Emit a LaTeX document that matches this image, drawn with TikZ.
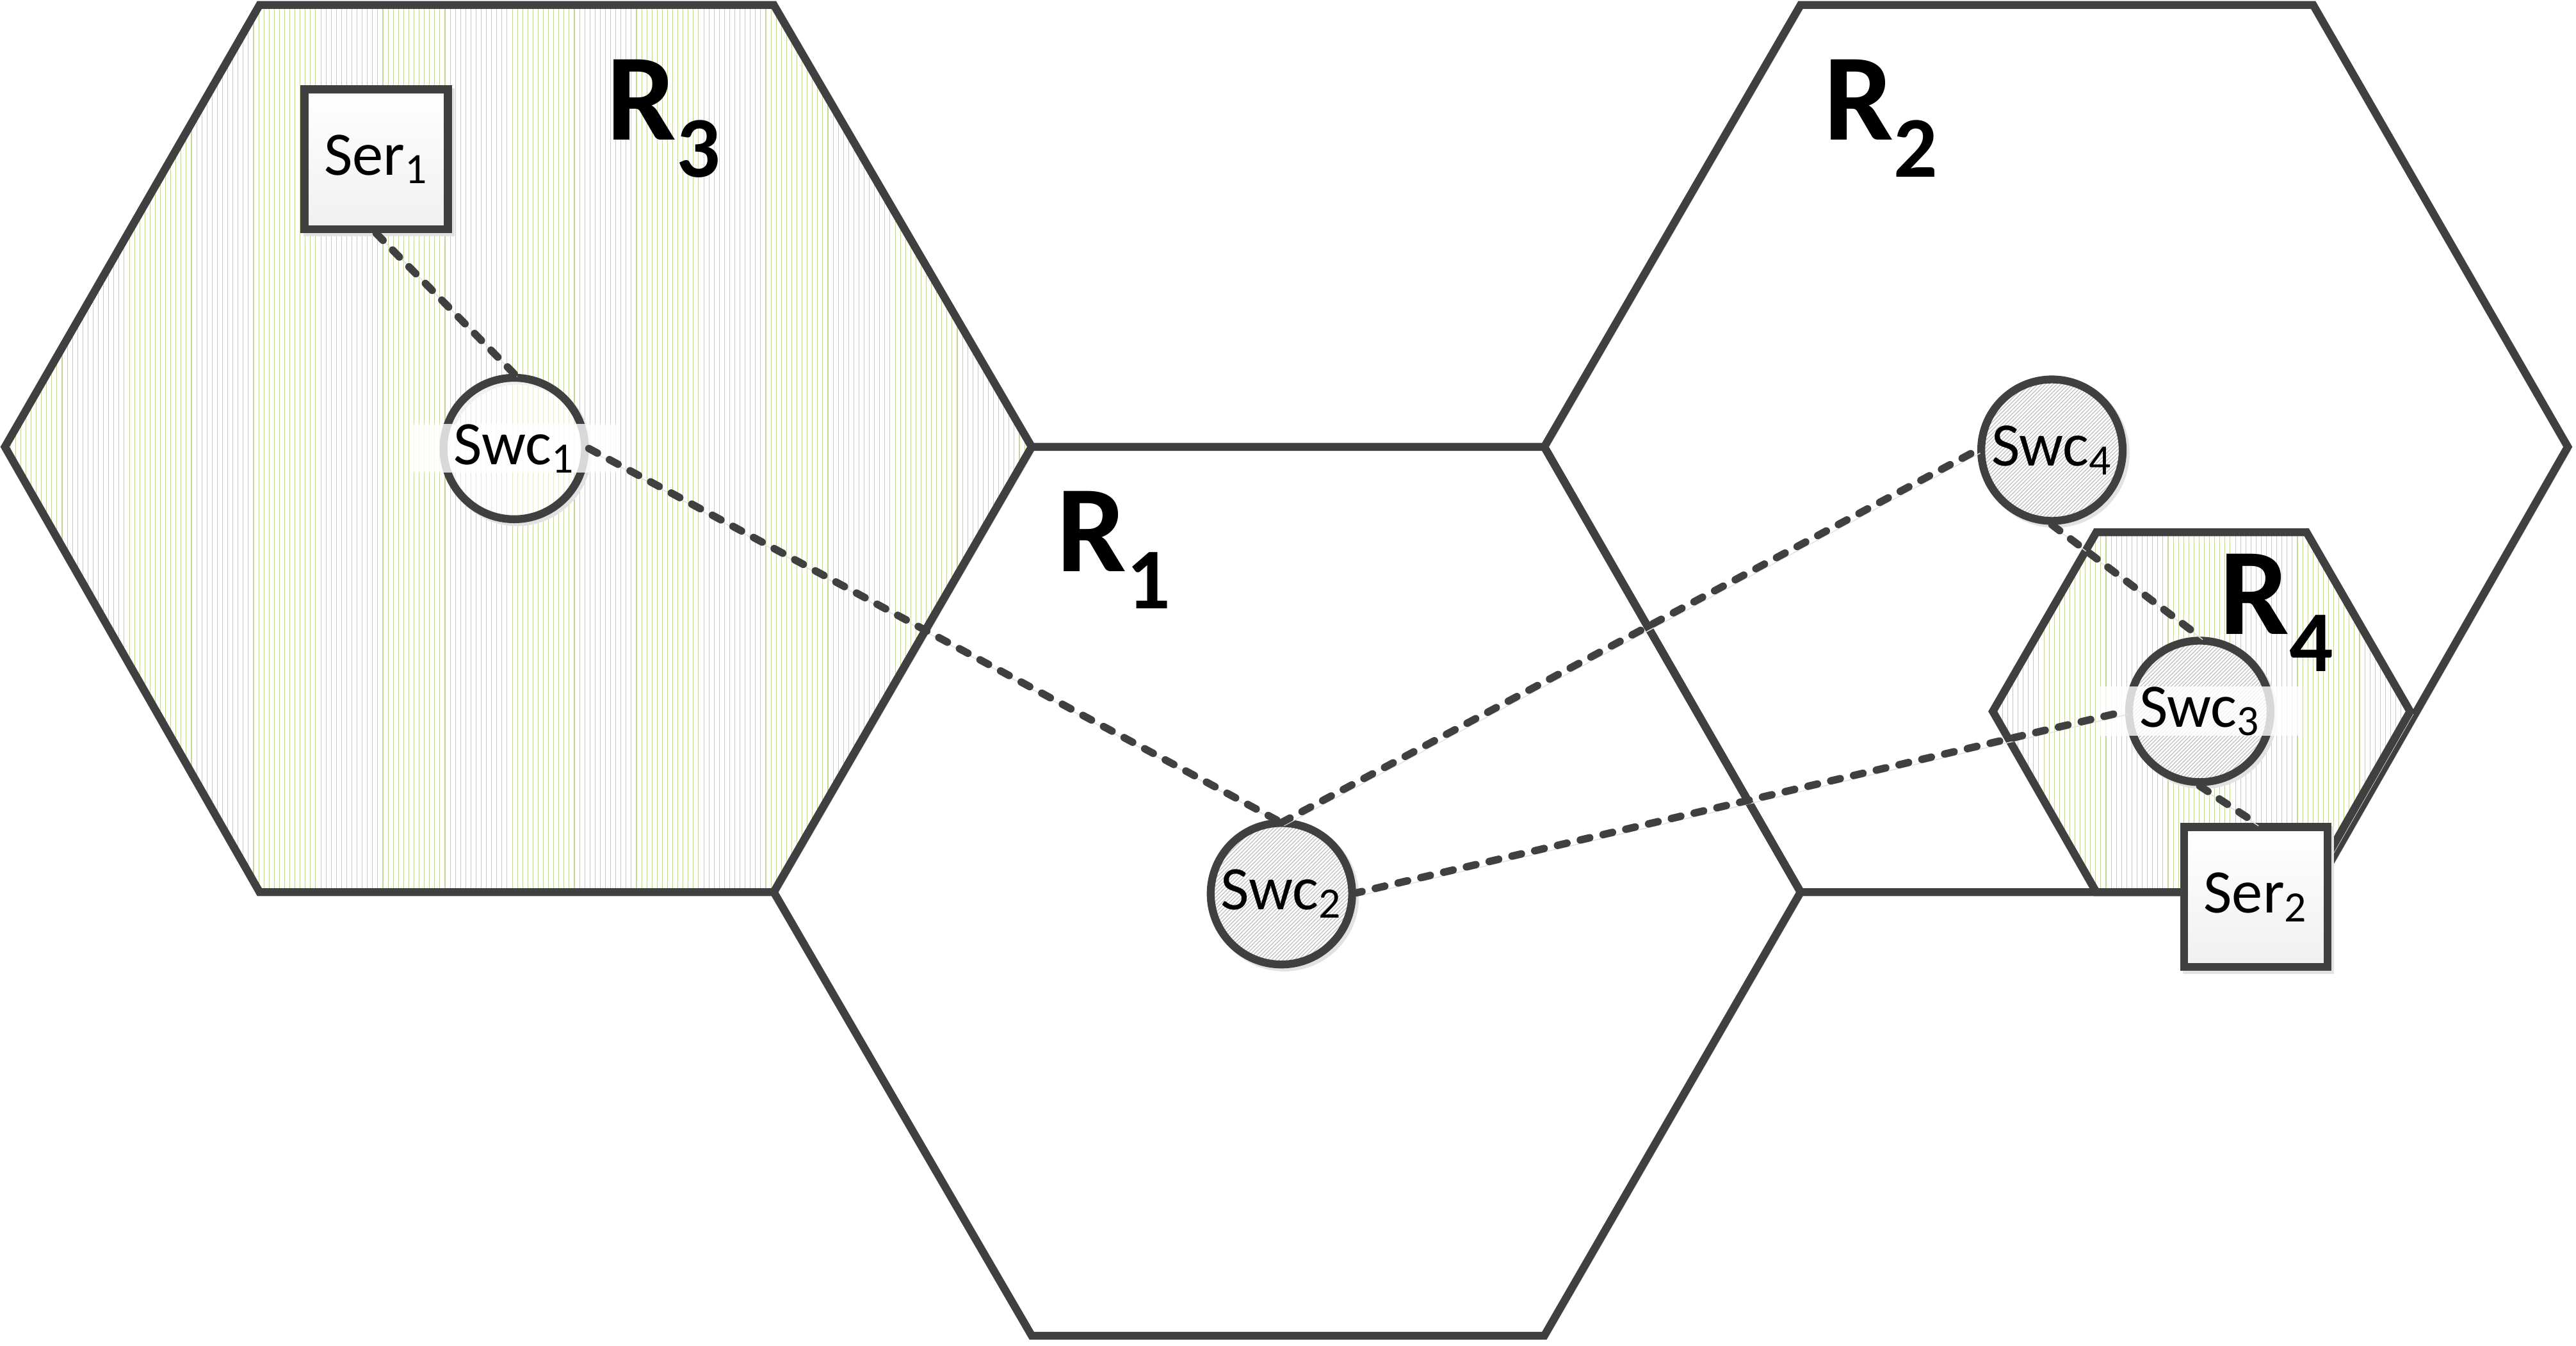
\documentclass[tikz,border=0pt]{standalone}
\usepackage{fontspec}
\setmainfont{Carlito}
\usepackage{tikz}
\usetikzlibrary{patterns.meta}
\definecolor{edgegray}{HTML}{404040}
\definecolor{shadowgray}{HTML}{E2E2E2}
\definecolor{stripegreen}{HTML}{C4D79B}
\definecolor{hatchgray}{HTML}{BFBFBF}

\begin{document}
\begin{tikzpicture}[
  x=0.02566cm, y=-0.02566cm,
  shadowed/.style={preaction={draw=shadowgray, transform canvas={shift={(1.3pt,-1.3pt)}}}},
  region/.style={shadowed, draw=edgegray, line width=3.5pt, line join=miter},
  zone/.style={region, preaction={fill=white}, pattern={Lines[angle=90, distance=2.3pt, line width=0.3pt]}, pattern color=stripegreen},
  server/.style={rectangle, shadowed, draw=edgegray, line width=3.5pt, top color=white, bottom color=gray!12, minimum width=2.24cm, minimum height=2.19cm, inner sep=0pt, font=\fontsize{27.5}{30}\selectfont},
  switch/.style={circle, shadowed, draw=edgegray, line width=3.5pt, minimum size=2.21cm, inner sep=0pt, font=\fontsize{27.5}{30}\selectfont, preaction={fill=white}, pattern={Lines[angle=45, distance=1.2pt, line width=0.35pt]}, pattern color=hatchgray},
  plainswitch/.style={circle, shadowed, draw=edgegray, line width=3.5pt, minimum size=2.21cm, inner sep=0pt, fill=white, fill opacity=0.5},
  strip/.style={rectangle, fill=white, fill opacity=0.8, text opacity=1, minimum width=3.2cm, minimum height=0.41cm, inner sep=0pt, font=\fontsize{27.5}{30}\selectfont},
  regionlabel/.style={anchor=base west, inner sep=0pt, font=\bfseries\fontsize{55}{60}\selectfont},
  link/.style={shadowed, draw=edgegray, line width=3.3pt, line cap=round, dash pattern=on 4.3pt off 6.1pt},
]
  \useasboundingbox (0,0) rectangle (1568,819);

  % regions
  \draw[zone] (3,272) -- (158,3) -- (471,3) -- (628,272) -- (471,543) -- (158,543) -- cycle;
  \draw[region] (471,543) -- (628,272) -- (940,272) -- (1096,543) -- (940,813) -- (628,813) -- cycle;
  \draw[region] (940,272) -- (1096,3) -- (1408,3) -- (1563,272) -- (1408,543) -- (1096,543) -- cycle;
  \draw[zone] (1213,433) -- (1276,324) -- (1404,324) -- (1467,433) -- (1404,543) -- (1276,543) -- cycle;

  % servers and switches
  \node[server] (ser1) at (229,97) {Ser\textsubscript{1}};
  \node[server] (ser2) at (1373,546) {Ser\textsubscript{2}};
  \node[plainswitch, label={[strip]center:Swc\textsubscript{1}}] (swc1) at (313,273) {};
  \node[switch] (swc2) at (780,544) {Swc\textsubscript{2}};
  \node[switch, label={[strip]center:Swc\textsubscript{3}}] (swc3) at (1339,433) {};
  \node[switch] (swc4) at (1249,274) {Swc\textsubscript{4}};

  % links
  \draw[link] (ser1.south) -- (swc1.north);
  \draw[link] (swc1.east) -- (swc2.north);
  \draw[link] (swc2.north) -- (swc4.west);
  \draw[link] (swc2.east) -- (swc3.west);
  \draw[link] (swc4.south) -- (swc3.north);
  \draw[link] (swc3.south) -- (ser2.north);

  % region names
  \node[regionlabel] (r1) at (643,348) {R\textsubscript{1}};
  \node[regionlabel] (r2) at (1110,85) {R\textsubscript{2}};
  \node[regionlabel] (r3) at (369,85) {R\textsubscript{3}};
  \node[regionlabel] (r4) at (1351,386) {R\textsubscript{4}};
\end{tikzpicture}
\end{document}
